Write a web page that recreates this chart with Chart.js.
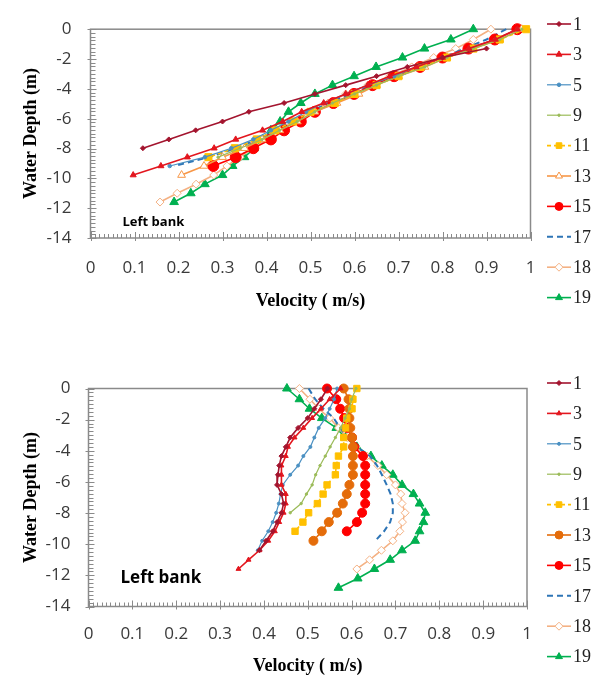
<!DOCTYPE html>
<html>
<head>
<meta charset="utf-8">
<script src="https://cdn.jsdelivr.net/npm/chart.js@4.4.1/dist/chart.umd.min.js"></script>
<style>
  html, body { margin: 0; padding: 0; background: #fff; }
  .panel { position: absolute; left: 0; width: 597px; }
  #upper { top: 0; height: 340px; }
  #lower { top: 340px; height: 338px; }
</style>
</head>
<body>
<div class="panel" id="upper"><canvas id="upper-chart" width="597" height="340"></canvas></div>
<div class="panel" id="lower"><canvas id="lower-chart" width="597" height="338"></canvas></div>
<script>
// measuring levels below the surface (m), shared by every profile
const depthLevels = [0, -0.69, -1.30, -1.90, -2.53, -3.15, -3.75, -4.34, -4.95, -5.54, -6.19,
  -6.78, -7.39, -7.98, -8.58, -9.17, -9.78, -10.39, -11.00, -11.59, -12.20, -12.80];

const stations = ['1', '3', '5', '9', '11', '13', '15', '17', '18', '19'];

const xTicks = [0, 0.1, 0.2, 0.3, 0.4, 0.5, 0.6, 0.7, 0.8, 0.9, 1];
const yTicks = [0, -2, -4, -6, -8, -10, -12, -14];

// velocity (m/s) at each level, upper panel; null = no reading
const upperV1  = [null, null, 0.90, 0.80, 0.72, 0.65, 0.58, 0.51, 0.44, 0.36, 0.30, 0.239, 0.178, 0.119];
const upperV3  = [0.97, 0.92, 0.86, 0.80, 0.74, 0.68, 0.63, 0.58, 0.53, 0.48, 0.437, 0.391, 0.33, 0.281, 0.22, 0.16, 0.097];
const upperV5  = [0.97, 0.92, 0.86, 0.80, 0.74, 0.69, 0.63, 0.58, 0.53, 0.49, 0.45, 0.41, 0.37, 0.32, 0.26, 0.18];
const upperV9  = [0.98, 0.93, 0.87, 0.81, 0.76, 0.70, 0.65, 0.60, 0.55, 0.51, 0.47, 0.43, 0.39, 0.34, 0.29];
const upperV11 = [0.99, 0.93, 0.87, 0.81, 0.75, 0.70, 0.65, 0.60, 0.555, 0.50, 0.46, 0.42, 0.378, 0.328, 0.268];
const upperV13 = [0.98, 0.93, 0.87, 0.81, 0.76, 0.70, 0.65, 0.61, 0.56, 0.51, 0.47, 0.43, 0.39, 0.35, 0.30, 0.258, 0.207];
const upperV15 = [0.97, 0.919, 0.859, 0.80, 0.749, 0.69, 0.641, 0.599, 0.552, 0.51, 0.478, 0.44, 0.41, 0.37, 0.33, 0.279];
const upperV17 = [0.945, 0.90, 0.85, 0.80, 0.75, 0.70, 0.64, 0.59, 0.54, 0.50, 0.46, 0.42, 0.38, 0.33, 0.27, 0.19];
const upperV18 = [0.91, 0.87, 0.83, 0.78, 0.73, 0.68, 0.63, 0.58, 0.54, 0.50, 0.46, 0.43, 0.40, 0.37, 0.34, 0.31, 0.28, 0.24, 0.197, 0.158];
const upperV19 = [0.87, 0.819, 0.759, 0.709, 0.649, 0.599, 0.55, 0.51, 0.478, 0.45, 0.431, 0.41, 0.391, 0.372, 0.35, 0.323, 0.30, 0.26, 0.228, 0.19];

// velocity (m/s) at each level, lower panel
const lowerV1  = [0.545, 0.53, 0.515, 0.50, 0.478, 0.46, 0.45, 0.44, 0.435, 0.432, 0.43, 0.44, 0.445, 0.44, 0.43, 0.42, 0.405, 0.39];
const lowerV3  = [0.575, 0.55, 0.53, 0.51, 0.49, 0.47, 0.455, 0.45, 0.44, 0.44, 0.44, 0.45, 0.45, 0.445, 0.435, 0.425, 0.41, 0.39, 0.365, 0.342];
const lowerV5  = [0.567, 0.56, 0.55, 0.54, 0.525, 0.515, 0.506, 0.49, 0.478, 0.46, 0.443, 0.438, 0.434, 0.428, 0.42, 0.41, 0.396, 0.386];
const lowerV9  = [0.61, 0.60, 0.595, 0.585, 0.575, 0.563, 0.551, 0.54, 0.528, 0.518, 0.51, 0.497, 0.485, 0.46];
const lowerV11 = [0.612, 0.603, 0.601, 0.589, 0.586, 0.582, 0.582, 0.570, 0.565, 0.563, 0.544, 0.535, 0.522, 0.502, 0.489, 0.471];
const lowerV13 = [0.582, 0.593, 0.595, 0.595, 0.597, 0.601, 0.603, 0.603, 0.603, 0.603, 0.595, 0.589, 0.58, 0.567, 0.548, 0.532, 0.513];
const lowerV15 = [0.544, 0.565, 0.574, 0.583, 0.589, 0.601, 0.606, 0.626, 0.631, 0.631, 0.631, 0.631, 0.631, 0.624, 0.612, 0.589];
const lowerV17 = [0.502, 0.517, 0.536, 0.559, 0.574, 0.589, 0.612, 0.642, 0.658, 0.669, 0.68, 0.689, 0.694, 0.694, 0.688, 0.674, 0.654];
const lowerV18 = [0.481, 0.505, 0.525, 0.55, 0.57, 0.59, 0.61, 0.635, 0.66, 0.68, 0.70, 0.712, 0.715, 0.722, 0.716, 0.71, 0.694, 0.668, 0.641, 0.612];
const lowerV19 = [0.4525, 0.481, 0.504, 0.532, 0.565, 0.586, 0.612, 0.644, 0.669, 0.694, 0.715, 0.741, 0.755, 0.768, 0.764, 0.755, 0.745, 0.715, 0.688, 0.652, 0.614, 0.570];

// line + marker look for each station
const upperStyles = [
  { color: '#A3142E', point: 'rectRot', radius: 2.5 },
  { color: '#E3161E', point: 'triangle', radius: 3.5 },
  { color: '#4A90C2', point: 'circle', radius: 1.8, width: 1.2 },
  { color: '#9BBB59', point: 'circle', radius: 1.2, width: 1.2 },
  { color: '#FFC000', point: 'rect', radius: 5, dash: [4, 3] },
  { color: '#F79646', point: 'triangle', radius: 4.5, fill: '#ffffff' },
  { color: '#FF0000', point: 'circle', radius: 5.5 },
  { color: '#2E75B6', point: false, radius: 0, dash: [6, 4], width: 2 },
  { color: '#F4B183', point: 'rectRot', radius: 4, fill: '#ffffff' },
  { color: '#00B050', point: 'triangle', radius: 5 }
];
const lowerStyles = [
  { color: '#A3142E', point: 'rectRot', radius: 2.5 },
  { color: '#E3161E', point: 'triangle', radius: 2.8 },
  { color: '#4A90C2', point: 'circle', radius: 1.5, width: 1.2 },
  { color: '#9BBB59', point: 'circle', radius: 1.2, width: 1.2 },
  { color: '#FFC000', point: 'rect', radius: 4.5, dash: [4, 3] },
  { color: '#E46C0A', point: 'circle', radius: 4.5 },
  { color: '#FF0000', point: 'circle', radius: 4.5 },
  { color: '#2E75B6', point: false, radius: 0, dash: [6, 4], width: 2 },
  { color: '#F4B183', point: 'rectRot', radius: 4, fill: '#ffffff' },
  { color: '#00B050', point: 'triangle', radius: 5 }
];

const AXIS_GREY = '#8a8a8a';

function toPoints(values) {
  const pts = [];
  values.forEach((v, k) => { if (v !== null) pts.push({ x: v, y: depthLevels[k] }); });
  return pts;
}

// frame, inward minor ticks and the bank label
const framePlugin = {
  id: 'frame',
  beforeDatasetsDraw(chart) {
    const { ctx, chartArea: a, scales: { x, y } } = chart;
    ctx.save();
    ctx.strokeStyle = AXIS_GREY;
    ctx.lineWidth = 1.5;
    ctx.strokeRect(a.left, a.top, a.right - a.left, a.bottom - a.top);
    ctx.lineWidth = 1;
    ctx.beginPath();
    for (let i = 0; i <= 100; i++) {
      const px = Math.round(x.getPixelForValue(i / 100)) + 0.5;
      const len = i % 10 === 0 ? 6 : 4;
      ctx.moveTo(px, a.bottom + (i % 10 === 0 ? 3 : 0));
      ctx.lineTo(px, a.bottom - len);
    }
    for (let i = 0; i <= 56; i++) {
      const py = Math.round(y.getPixelForValue(-i / 4)) + 0.5;
      const len = i % 8 === 0 ? 6 : 5;
      ctx.moveTo(a.left - (i % 8 === 0 ? 3 : 0), py);
      ctx.lineTo(a.left + len, py);
    }
    ctx.stroke();
    const opts = chart.options.plugins.frame;
    ctx.fillStyle = '#000';
    ctx.font = 'bold ' + opts.noteSize + 'px "Open Sans"';
    ctx.textBaseline = 'middle';
    ctx.fillText('Left bank', a.left + 32, opts.noteY);
    ctx.restore();
  }
};

// legend column at the right: short line, marker, station number
const sideLegend = {
  id: 'sideLegend',
  afterDraw(chart) {
    const { ctx } = chart;
    const opts = chart.options.plugins.sideLegend;
    ctx.save();
    chart.data.datasets.forEach((ds, i) => {
      const y = opts.top + i * opts.gap;
      ctx.strokeStyle = ds.borderColor;
      ctx.lineWidth = ds.borderWidth;
      ctx.setLineDash(ds.borderDash || []);
      ctx.beginPath();
      ctx.moveTo(547, y);
      ctx.lineTo(571, y);
      ctx.stroke();
      ctx.setLineDash([]);
      if (ds.pointStyle) {
        ctx.fillStyle = ds.pointBackgroundColor;
        ctx.strokeStyle = ds.pointBorderColor;
        ctx.lineWidth = 1;
        Chart.helpers.drawPoint(ctx, {
          pointStyle: ds.pointStyle,
          radius: Math.min(ds.pointRadius, 4),
          borderWidth: 1,
          rotation: 0
        }, 559, y);
      }
      ctx.fillStyle = '#222';
      ctx.font = '18px "Liberation Serif"';
      ctx.textBaseline = 'middle';
      ctx.textAlign = 'left';
      ctx.fillText(ds.label, 573, y + 1);
    });
    ctx.restore();
  }
};

function buildChart(canvasId, profiles, styles, box) {
  const datasets = profiles.map((values, i) => {
    const s = styles[i];
    return {
      label: stations[i],
      data: toPoints(values),
      borderColor: s.color,
      backgroundColor: s.fill || s.color,
      pointBackgroundColor: s.fill || s.color,
      pointBorderColor: s.color,
      pointStyle: s.point,
      pointRadius: s.radius,
      pointHoverRadius: s.radius,
      pointBorderWidth: 1,
      borderWidth: s.width || 1.6,
      borderDash: s.dash || [],
      tension: 0,
      clip: false
    };
  });

  return new Chart(document.getElementById(canvasId), {
    type: 'line',
    data: { datasets },
    options: {
      responsive: false,
      animation: false,
      layout: { padding: { top: box.top, right: 597 - box.right, left: 0, bottom: 0 } },
      plugins: {
        legend: { display: false },
        tooltip: { enabled: false },
        frame: { noteY: box.noteY, noteSize: box.noteSize },
        sideLegend: { top: box.legendTop, gap: box.legendGap }
      },
      scales: {
        x: {
          type: 'linear',
          min: 0,
          max: 1,
          afterBuildTicks: (scale) => { scale.ticks = xTicks.map(v => ({ value: v })); },
          afterFit: (scale) => { scale.height = box.height - box.bottom; },
          grid: { display: false, drawTicks: false },
          border: { display: false },
          ticks: {
            padding: box.xTickPad,
            color: '#3a3a3a',
            font: { family: '"Open Sans"', size: 17 },
            callback: (v) => String(Math.round(v * 10) / 10)
          },
          title: {
            display: true,
            text: 'Velocity ( m/s)',
            color: '#000',
            font: { family: '"Liberation Serif"', size: 18, weight: 'bold' },
            padding: { top: 0, bottom: box.xTitlePad }
          }
        },
        y: {
          type: 'linear',
          min: -14,
          max: 0,
          afterBuildTicks: (scale) => { scale.ticks = yTicks.map(v => ({ value: v })); },
          afterFit: (scale) => { scale.width = box.left; },
          grid: { display: false, drawTicks: false },
          border: { display: false },
          ticks: {
            padding: box.yTickPad,
            color: '#3a3a3a',
            font: { family: '"Open Sans"', size: 17 }
          },
          title: {
            display: true,
            text: 'Water Depth (m)',
            color: '#000',
            font: { family: '"Liberation Serif"', size: 18, weight: 'bold' },
            padding: { top: 21, bottom: 0 }
          }
        }
      }
    },
    plugins: [framePlugin, sideLegend]
  });
}

buildChart('upper-chart',
  [upperV1, upperV3, upperV5, upperV9, upperV11, upperV13, upperV15, upperV17, upperV18, upperV19],
  upperStyles,
  { left: 90.5, right: 530.5, top: 23.5, bottom: 238, height: 340,
    xTickPad: 20, yTickPad: 19, xTitlePad: 28, noteY: 222, noteSize: 13,
    legendTop: 24, legendGap: 30.4 });

buildChart('lower-chart',
  [lowerV1, lowerV3, lowerV5, lowerV9, lowerV11, lowerV13, lowerV15, lowerV17, lowerV18, lowerV19],
  lowerStyles,
  { left: 88.5, right: 527, top: 48.5, bottom: 266.5, height: 338,
    xTickPad: 17.5, yTickPad: 18, xTitlePad: 1, noteY: 238, noteSize: 17,
    legendTop: 43, legendGap: 30.4 });
</script>
</body>
</html>
